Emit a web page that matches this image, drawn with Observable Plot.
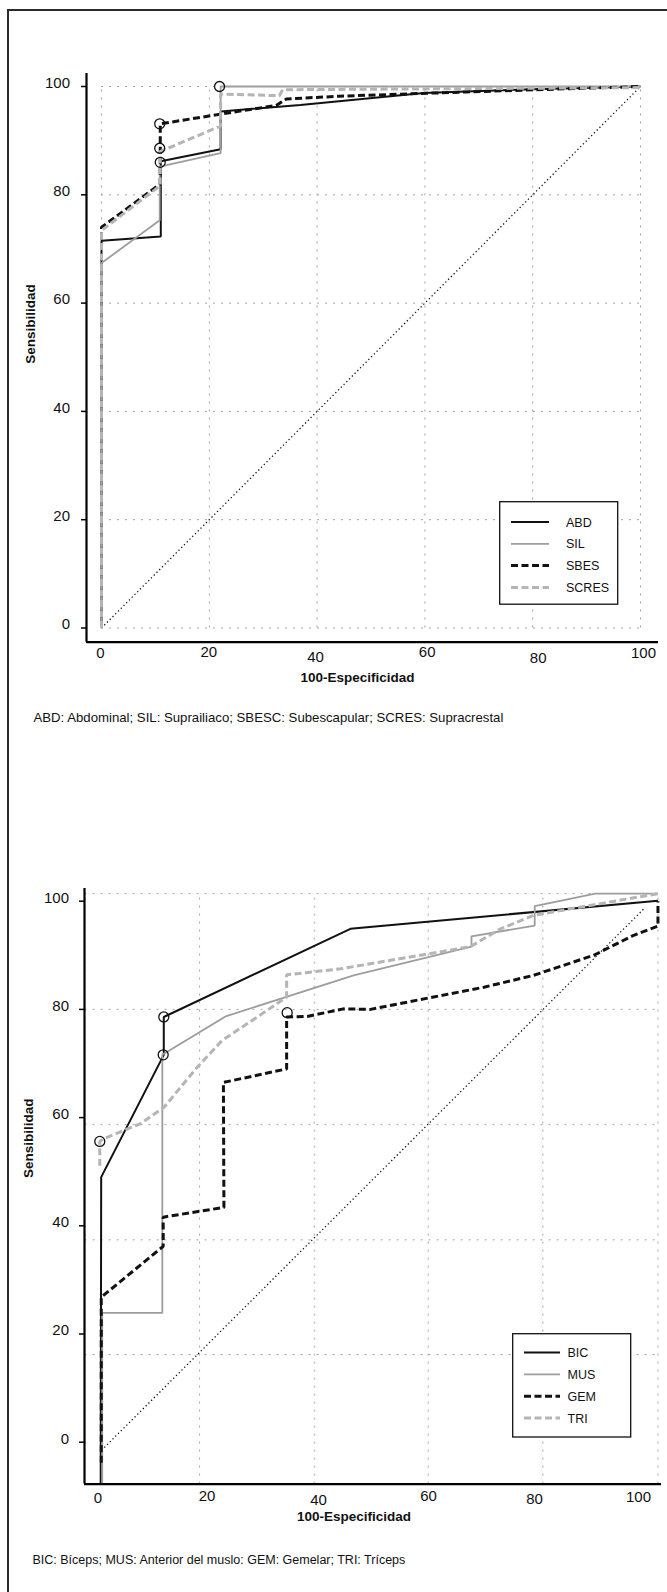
<!DOCTYPE html>
<html>
<head>
<meta charset="utf-8">
<script src="https://cdn.jsdelivr.net/npm/d3@7"></script>
<script src="https://cdn.jsdelivr.net/npm/@observablehq/plot@0.6"></script>
<style>
html, body { margin: 0; padding: 0; background: #fff; overflow: hidden; }
#page { position: relative; width: 667px; height: 1592px; overflow: hidden; font-family: "Liberation Sans", Arial, sans-serif; }
#border { position: absolute; left: 6.5px; top: 9px; width: 2000px; height: 3000px; border-left: 2.6px solid #2b2b2b; border-top: 2.6px solid #2b2b2b; }
.chart { position: absolute; left: 0; }
.caption { position: absolute; white-space: nowrap; color: #111; line-height: 1; }
.legend { position: absolute; }
</style>
</head>
<body>
<div id="page">
  <div id="border"></div>
  <div id="c1" class="chart"></div>
  <div id="c2" class="chart"></div>
</div>
<script>
// ---------------- DATA: chart 1 ----------------
const names1 = ["ABD", "SIL", "SBES", "SCRES"];
const abdX   = [0, 0, 11.0, 11.0, 22.1, 22.1, 36.9, 59.8, 80, 100];
const abdY   = [0, 71.5, 72.3, 86.2, 88.4, 95.4, 96.6, 98.8, 99.5, 100];
const silX   = [0, 0, 10.8, 10.8, 22.1, 22.1, 100];
const silY   = [0, 67.4, 75.3, 85.2, 87.7, 100, 100];
const sbesX  = [0, 0, 10.9, 10.9, 22.1, 32.4, 34.3, 44.1, 67.8, 100];
const sbesY  = [0, 74.0, 82.0, 93.1, 94.9, 96.5, 97.7, 98.2, 99.0, 100];
const scresX = [0, 0, 10.9, 10.9, 22.1, 22.1, 33.0, 33.6, 100];
const scresY = [0, 73.4, 81.7, 88.0, 92.7, 98.6, 98.3, 99.4, 99.8];
const cut1X  = [10.8, 10.8, 10.9, 21.9];
const cut1Y  = [93.1, 88.6, 86.0, 100];
const diag1X = [0, 100];
const diag1Y = [0, 100];
const grid1X = [0, 20, 40, 60, 80, 100];
const grid1Y = [0, 20, 40, 60, 80, 100];
const caption1 = "ABD: Abdominal; SIL: Suprailiaco; SBESC: Subescapular; SCRES: Supracrestal";

// ---------------- DATA: chart 2 ----------------
const names2 = ["BIC", "MUS", "GEM", "TRI"];
const bicX = [0.5, 0.59, 12.17, 12.17, 46.7, 103.6];
const bicY = [-7.74, 49.0, 71.6, 78.6, 94.9, 100.1];
const musX = [0.78, 0.78, 11.9, 11.9, 23.6, 47.3, 69.1, 69.1, 80.8, 80.8, 92.0, 103.6];
const musY = [-7.74, 23.9, 23.9, 71.6, 78.7, 86.3, 91.6, 93.5, 95.5, 99.1, 101.4, 101.4];
const gemX = [0.6, 0.6, 12.06, 12.06, 23.3, 23.2, 34.9, 34.9, 38.7, 45.4, 50.4, 62.1, 71.4, 80.6, 91.7, 99.1, 103.6, 103.6];
const gemY = [-3.8, 26.8, 36.2, 41.6, 43.4, 66.5, 69.0, 78.6, 78.7, 80.1, 80.0, 82.3, 84.1, 86.3, 90.0, 93.7, 95.4, 100.0];
const triX = [0.33, 0.33, 1.07, 7.86, 12.2, 18.35, 23.0, 29.5, 34.9, 34.9, 44.9, 68.9, 74.5, 80.6, 103.6];
const triY = [51.1, 55.6, 56.1, 58.9, 61.9, 69.3, 74.3, 78.6, 82.3, 86.4, 87.5, 91.6, 94.9, 97.4, 101.4];
const cut2X = [0.33, 12.17, 12.06, 35.0];
const cut2Y = [55.6, 78.6, 71.6, 79.4];
const diag2X = [0.65, 101.0];
const diag2Y = [-1.5, 98.6];
const grid2X = [-2.4, 18.8, 40.0, 61.1, 82.3, 103.6];
const grid2Y = [16.2, 37.4, 58.7, 80.0, 101.4];
const caption2 = "BIC: Bíceps; MUS: Anterior del muslo: GEM: Gemelar; TRI: Tríceps";

// ---------------- tick labels ----------------
const yTicks = [0, 20, 40, 60, 80, 100];
const xTicks = [0, 20, 40, 60, 80, 100];
const xTitle = "100-Especificidad";
const yTitle = "Sensibilidad";

// ---------------- styles ----------------
const FONT = "'Liberation Sans', Arial, sans-serif";
const lineStyles = [
  {stroke: "#111", strokeWidth: 2, dash: null},
  {stroke: "#9d9d9d", strokeWidth: 1.8, dash: null},
  {stroke: "#111", strokeWidth: 3, dash: "7,3.5"},
  {stroke: "#b5b5b5", strokeWidth: 3, dash: "7,3.5"}
];
const pts = (xs, ys) => xs.map((x, i) => ({x, y: ys[i]}));

function makeChart(L, S) {
  const kx = (L.x100 - L.x0) / 100, ky = (L.y0 - L.y100) / 100;
  const xDomain = [(L.left - L.x0) / kx, (L.right - L.x0) / kx];
  const yDomain = [(L.y0 - L.bottom) / ky, (L.y0 - L.ftop) / ky];
  const marginTop = L.ftop - L.top, marginBottom = L.top + L.height - L.bottom;
  const gridStyle = {stroke: "#a3a3a3", strokeWidth: 1, strokeDasharray: "2,6"};
  const marks = [
    Plot.ruleX(S.gridX, {x: d => d, y1: L.vGridToAxis ? yDomain[0] : d3.min(S.gridY), y2: d3.max(S.gridY), ...gridStyle}),
    Plot.ruleY(S.gridY, {y: d => d, x1: d3.min(S.gridX), x2: d3.max(S.gridX), ...gridStyle}),
    Plot.line(pts(S.diagX, S.diagY), {x: "x", y: "y", stroke: "#111", strokeWidth: 1.25, strokeDasharray: "1.3,2.6", strokeLinecap: "butt"})
  ];
  S.series.forEach((s, i) => {
    const st = lineStyles[i];
    marks.push(Plot.line(pts(s.x, s.y), {x: "x", y: "y", stroke: st.stroke, strokeWidth: st.strokeWidth,
      strokeDasharray: st.dash || undefined, strokeLinecap: "butt", strokeLinejoin: "miter"}));
  });
  marks.push(
    Plot.dot(pts(S.cutX, S.cutY), {x: "x", y: "y", r: 5, stroke: "#111", strokeWidth: 1.3, fill: "none"}),
    Plot.ruleX([xDomain[0]], {x: d => d, stroke: "#000", strokeWidth: 2.2}),
    Plot.ruleY([yDomain[0]], {y: d => d, stroke: "#000", strokeWidth: 2.2}),
    Plot.axisY({ticks: yTicks, tickSize: 5, tickFormat: () => "", stroke: "#000", strokeWidth: 1.5, label: null}),
    Plot.axisY({ticks: yTicks, tickSize: 0, tickPadding: L.yPad, dy: -3.5, fontSize: 15, label: null})
  );
  // x tick labels (each slightly offset, as in the original artwork)
  xTicks.forEach((t, i) => {
    marks.push(Plot.axisX({ticks: [t], tickSize: 0, tickPadding: L.xPad[i], dx: L.xDx[i], fontSize: 15, label: null}));
  });
  marks.push(
    Plot.text([xTitle], {text: d => d, frameAnchor: "bottom", dx: L.xTitleDx, dy: L.xTitleDy, fontWeight: "bold", fontSize: 13.5}),
    Plot.text([yTitle], {text: d => d, frameAnchor: "left", rotate: -90, dx: L.yTitleDx, dy: L.yTitleDy, fontWeight: "bold", fontSize: 13.5})
  );
  const svg = Plot.plot({
    width: 667, height: L.height,
    marginLeft: L.left, marginRight: 667 - L.right, marginTop, marginBottom,
    x: {domain: xDomain, label: null},
    y: {domain: yDomain, label: null},
    style: {fontFamily: FONT, fontSize: "15px", background: "transparent", color: "#111", overflow: "visible"},
    marks
  });
  const host = document.getElementById(L.id);
  host.style.top = L.top + "px";
  host.appendChild(svg);

  // legend box
  const lg = d3.select("#page").append("svg").attr("class", "legend")
    .style("left", L.legend.left + "px").style("top", L.legend.top + "px")
    .attr("width", L.legend.w + 2).attr("height", L.legend.h + 2);
  lg.append("rect").attr("x", 0.7).attr("y", 0.7).attr("width", L.legend.w).attr("height", L.legend.h)
    .attr("fill", "#fff").attr("stroke", "#111").attr("stroke-width", 1.3);
  S.names.forEach((n, i) => {
    const st = lineStyles[i];
    const y = L.legend.row0 + i * L.legend.step;
    lg.append("line").attr("x1", L.legend.s1).attr("x2", L.legend.s2).attr("y1", y).attr("y2", y)
      .attr("stroke", st.stroke).attr("stroke-width", st.strokeWidth).attr("stroke-dasharray", st.dash);
    lg.append("text").attr("x", L.legend.tx).attr("y", y).attr("dy", "0.36em")
      .attr("font-family", FONT).attr("font-size", 12.5).attr("fill", "#111").text(n);
  });

  // caption
  d3.select("#page").append("div").attr("class", "caption")
    .style("left", L.cap.left + "px").style("top", L.cap.top + "px")
    .style("font-size", L.cap.size + "px").text(S.caption);
}

makeChart({
  id: "c1", top: 60, height: 640,
  left: 86, right: 658, ftop: 73, bottom: 641.7,
  x0: 101, x100: 640, y0: 627.5, y100: 86,
  vGridToAxis: false, yPad: 16.5,
  xPad: [5.5, 4.5, 9.5, 4.5, 10.5, 5], xDx: [-1, -0.5, -1.5, 2.3, 5.5, 3],
  xTitleDx: -15, xTitleDy: 39.5, yTitleDx: -56, yTitleDy: 6,
  legend: {left: 498.5, top: 501, w: 118, h: 102.5, row0: 21, step: 21.8, s1: 12, s2: 50, tx: 67},
  cap: {left: 33.5, top: 711, size: 13.2}
}, {
  names: names1,
  series: [{x: abdX, y: abdY}, {x: silX, y: silY}, {x: sbesX, y: sbesY}, {x: scresX, y: scresY}],
  cutX: cut1X, cutY: cut1Y, diagX: diag1X, diagY: diag1Y,
  gridX: grid1X, gridY: grid1Y, caption: caption1
});

makeChart({
  id: "c2", top: 860, height: 680,
  left: 84, right: 661, ftop: 888, bottom: 1483.6,
  x0: 97.5, x100: 638, y0: 1441.7, y100: 900.7,
  vGridToAxis: true, yPad: 15.5,
  xPad: [8.5, 6.5, 10, 6.5, 9, 7], xDx: [0, 0.9, 4.3, 6.2, 4.1, 0],
  xTitleDx: -19, xTitleDy: 37, yTitleDx: -55.7, yTitleDy: -8.3,
  legend: {left: 512, top: 1333.3, w: 118, h: 103.3, row0: 19.4, step: 21.9, s1: 12, s2: 48, tx: 55.5},
  cap: {left: 32.5, top: 1554, size: 12.5}
}, {
  names: names2,
  series: [{x: bicX, y: bicY}, {x: musX, y: musY}, {x: gemX, y: gemY}, {x: triX, y: triY}],
  cutX: cut2X, cutY: cut2Y, diagX: diag2X, diagY: diag2Y,
  gridX: grid2X, gridY: grid2Y, caption: caption2
});
</script>
</body>
</html>
